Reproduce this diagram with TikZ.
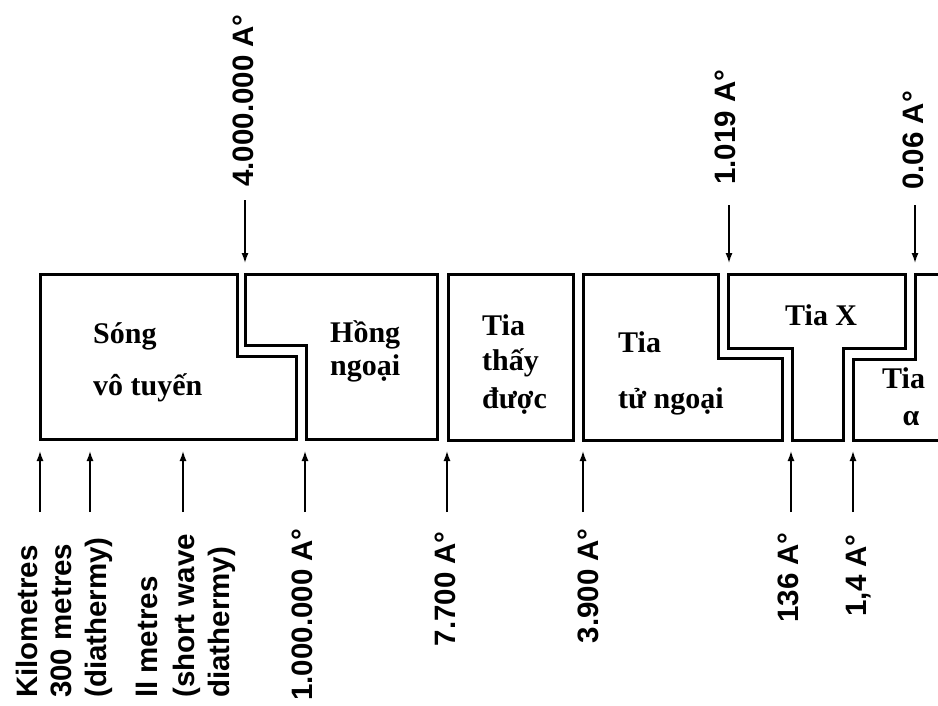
\documentclass[tikz,border=0pt]{standalone}
\usepackage{fontspec}
\setmainfont{Liberation Serif}[BoldFont={Liberation Serif Bold}]
\newfontfamily\wavefont{Liberation Sans}[BoldFont={Liberation Sans Bold}]
\usetikzlibrary{arrows.meta}
\begin{document}
\begin{tikzpicture}[x=1pt, y=-1pt, >={Latex[length=10pt,width=7pt]},
		band/.style={line width=3pt, line join=miter},
		pointer/.style={->, line width=1.4pt},
		bandtext/.style={font=\bfseries\fontsize{30}{30}\selectfont, anchor=base west, inner sep=0pt},
		wavetext/.style={font=\wavefont\bfseries\fontsize{29.5}{29.5}\selectfont, rotate=90, inner sep=0pt}]
		\useasboundingbox (0,0) rectangle (938,705);
		% the bands of the spectrum
		\draw[band] (40,274) -- (237,274) -- (237,356) -- (296,356) -- (296,439) -- (40,439) -- cycle;
		\draw[band] (245,274) -- (437,274) -- (437,439) -- (306,439) -- (306,345) -- (245,345) -- cycle;
		\draw[band] (448,274) rectangle (573,440);
		\draw[band] (583,274) -- (718,274) -- (718,358) -- (782,358) -- (782,440) -- (583,440) -- cycle;
		\draw[band] (728,274) -- (905,274) -- (905,348) -- (843,348) -- (843,440) -- (792,440) -- (792,348) -- (728,348) -- cycle;
		\draw[band] (945,274) -- (915,274) -- (915,359) -- (853,359) -- (853,440) -- (945,440);

		\node[bandtext] (song1) at (93,343) {Sóng};
		\node[bandtext] (song2) at (93,395) {vô tuyến};
		\node[bandtext] (hong1) at (330,342) {Hồng};
		\node[bandtext] (hong2) at (330,375) {ngoại};
		\node[bandtext] (thay1) at (482,335) {Tia};
		\node[bandtext] (thay2) at (482,370) {thấy};
		\node[bandtext] (thay3) at (482,408) {được};
		\node[bandtext] (tu1) at (618,352) {Tia};
		\node[bandtext] (tu2) at (618,408) {tử ngoại};
		\node[bandtext] (tiax) at (785,325) {Tia X};
		\node[bandtext] (alpha1) at (882,388) {Tia};
		\node[bandtext, anchor=base] (alpha2) at (911,425) {α};

		% pointers from below and from above
		\foreach \x [count=\i] in {40,90,183,305,447,583,791,853} {
				\coordinate (lo\i) at (\x,512);
				\coordinate (hi\i) at (\x,451);
				\draw[pointer] (lo\i) -- (hi\i);
			}
		\foreach \x/\y [count=\i] in {245/200,729/205,915/205} {
				\coordinate (up\i) at (\x,\y);
				\coordinate (dn\i) at (\x,263);
				\draw[pointer] (up\i) -- (dn\i);
			}

		\node[wavetext, anchor=base west] (km1) at (37,698) {Kilometres};
		\node[wavetext, anchor=base west] (km2) at (71,698) {300 metres};
		\node[wavetext, anchor=base west] (km3) at (106,698) {(diathermy)};
		\node[wavetext, anchor=base west] (sw1) at (157,698) {ll metres};
		\node[wavetext, anchor=base west] (sw2) at (194,698) {(short wave};
		\node[wavetext, anchor=base west] (sw3) at (229,698) {diathermy)};
		\node[wavetext, anchor=base east] (ir) at (312,528) {1.000.000 A°};
		\node[wavetext, anchor=base east] (red) at (455,531) {7.700 A°};
		\node[wavetext, anchor=base east] (vio) at (598,528) {3.900 A°};
		\node[wavetext, anchor=base east] (uv) at (798,532) {136 A°};
		\node[wavetext, anchor=base east] (xr) at (866,534) {1,4 A°};
		\node[wavetext, anchor=base west] (radio) at (253,187) {4.000.000 A°};
		\node[wavetext, anchor=base west] (xtop) at (735,185) {1.019 A°};
		\node[wavetext, anchor=base west] (atop) at (923,190) {0.06 A°};
	\end{tikzpicture}
\end{document}
